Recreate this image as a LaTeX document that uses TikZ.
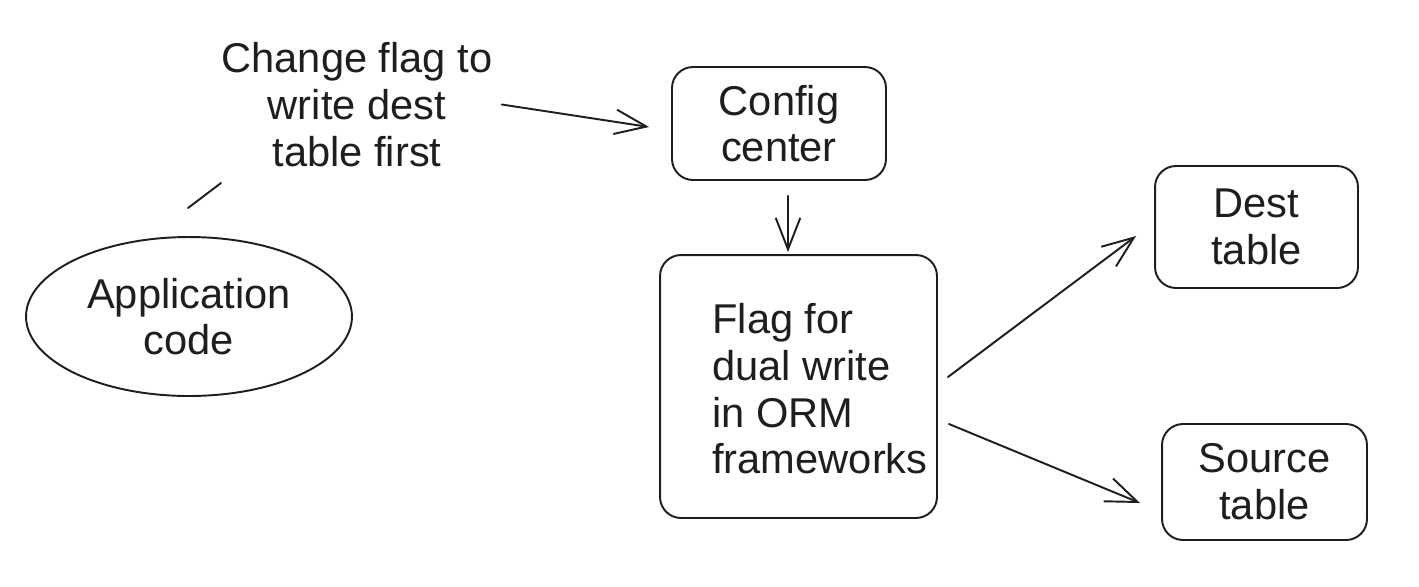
\documentclass[tikz,border=0pt]{standalone}
\usepackage{fontspec}
\setmainfont{Liberation Sans}
\usetikzlibrary{arrows.meta,shapes.geometric}
\definecolor{ink}{HTML}{1E1E1E}
\begin{document}
\begin{tikzpicture}[x=0.02cm,y=-0.02cm,
  every node/.style={font=\fontsize{23.7}{26.6}\selectfont, text=ink, inner sep=0pt},
  rbox/.style={draw=ink, line width=1.1pt, rounded corners=0.42cm, align=center},
  oval/.style={draw=ink, line width=1.1pt, ellipse, align=center},
  conn/.style={draw=ink, line width=1.1pt, line cap=round, -{Straight Barb[length=18pt,width=14pt,line width=1.1pt]}},
  plain/.style={draw=ink, line width=1.1pt, line cap=round}]
\useasboundingbox (0,0) rectangle (1419,586);
\node[oval, minimum width=6.52cm, minimum height=3.18cm] (app) at (189,316.5) {Application\\code};
\node[align=center] (lbl) at (357,104.5) {Change flag to\\write dest\\table first};
\node[rbox, minimum width=4.28cm, minimum height=2.26cm] (config) at (779,123.5) {Config\\center};
\node[rbox, minimum width=5.54cm, minimum height=5.26cm] (flag) at (798.5,386.5) {};
\node[align=left, anchor=west] (flagtext) at (712,389) {Flag for\\dual write\\in ORM\\frameworks};
\node[rbox, minimum width=4.06cm, minimum height=2.44cm] (dest) at (1256.5,227) {Dest\\table};
\node[rbox, minimum width=4.1cm, minimum height=2.32cm] (source) at (1264.5,482) {Source\\table};
\coordinate (a1) at (188,208);
\coordinate (a2) at (221,183);
\draw[plain] (a1) -- (a2);
\draw[conn] ([shift={(9,0)}]lbl.east) -- ([shift={(-22,3.5)}]config.west);
\draw[conn] ([shift={(9,15)}]config.south) -- ([shift={(-10.5,-2)}]flag.north);
\draw[conn] ([shift={(10,-9.5)}]flag.east) -- ([shift={(-18,9)}]dest.west);
\draw[conn] ([shift={(11,37.5)}]flag.east) -- ([shift={(-21,21)}]source.west);
\end{tikzpicture}
\end{document}
